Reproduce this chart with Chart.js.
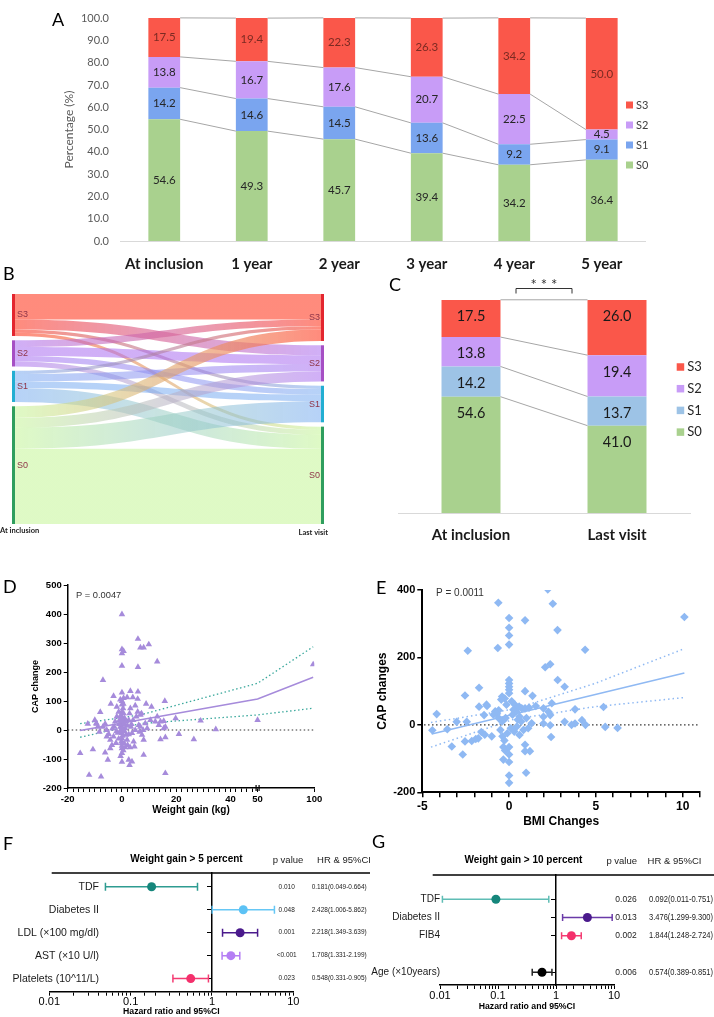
<!DOCTYPE html>
<html>
<head>
<meta charset="utf-8">
<title>CAP stages, weight gain and hazard ratios</title>
<script src="https://cdn.jsdelivr.net/npm/chart.js@4.4.1/dist/chart.umd.min.js"></script>
<style>
  body { margin: 0; background: #fff; }
  #page { position: relative; width: 714px; height: 1017px; overflow: hidden; background: #fff; }
  canvas { position: absolute; }
  .tag { position: absolute; font-family: Lato, sans-serif; font-size: 18px; line-height: 18px; color: #000; }
</style>
</head>
<body>
<div id="page">
  <canvas id="chartA" width="714" height="280" style="left:0;top:0"></canvas>
  <canvas id="chartB" width="335" height="260" style="left:0;top:285px"></canvas>
  <canvas id="chartC" width="354" height="280" style="left:360px;top:270px"></canvas>
  <canvas id="chartD" width="360" height="250" style="left:0;top:570px"></canvas>
  <canvas id="chartE" width="354" height="260" style="left:360px;top:570px"></canvas>
  <canvas id="chartF" width="370" height="187" style="left:0;top:830px"></canvas>
  <canvas id="chartG" width="354" height="187" style="left:360px;top:830px"></canvas>
  <div class="tag" style="left:52px;top:10px">A</div>
  <div class="tag" style="left:3px;top:264px">B</div>
  <div class="tag" style="left:389px;top:275px">C</div>
  <div class="tag" style="left:3px;top:577px">D</div>
  <div class="tag" style="left:376px;top:578px">E</div>
  <div class="tag" style="left:3px;top:834px">F</div>
  <div class="tag" style="left:372px;top:832px">G</div>
</div>
<script>
// ---- panel A: CAP stage share per follow-up year
const yearLabels = ['At inclusion', '1 year', '2 year', '3 year', '4 year', '5 year']
const yearS0 = [54.6, 49.3, 45.7, 39.4, 34.2, 36.4]
const yearS1 = [14.2, 14.6, 14.5, 13.6, 9.2, 9.1]
const yearS2 = [13.8, 16.7, 17.6, 20.7, 22.5, 4.5]
const yearS3 = [17.5, 19.4, 22.3, 26.3, 34.2, 50.0]

// ---- panel B: transitions inclusion -> last visit (to S3, S2, S1, S0)
const sankeyStages = ['S3', 'S2', 'S1', 'S0']
const flowFromS3 = [11.8, 4.6, 1.5, 1.5]
const flowFromS2 = [3.1, 4.1, 2.6, 2.3]
const flowFromS1 = [1.5, 3.4, 3.1, 6.4]
const flowFromS0 = [5.3, 4.6, 9.7, 34.8]

// ---- panel C
const visitLabels = ['At inclusion', 'Last visit']
const visitS0 = [54.6, 41.0]
const visitS1 = [14.2, 13.7]
const visitS2 = [13.8, 19.4]
const visitS3 = [17.5, 26.0]

// ---- panel D: weight gain (kg) vs CAP change
const weightGain = [0, 5.9, 9.9, 6.8, 8.0, 0, 0.6, 0, 13, 5.9, 0, -7, 0, 3.1, 5.9, -3.1, 1.9, 4, 5.8, -4.1,
  -1.9, 4.9, 8.9, 10.9, 15.8, -8, -10, -12.6, -9.3, 6.8, 13, 19.8, 29, 34.6, 50, 99, 14.2, 16, 15.4, 21,
  26.5, 14.2, 16, -15.4, -10.7, -6.2, -4.3, -5.2, 0, 2.5, 3.7, 2.8, 8, 16, -12.1, -7.7,
  -9.5, -8.9, -8.3, -7, -6.2, -5.6, -4.9, -5.6, -4.3, -3.7, -3.1, -2.8, -2.5, -1.9, -1.2, -0.9, -0.6, -0.4,
  0, 0, 0, 0, 0, 0, 0, 0, 0, 0.4, 0.6, 0.9, 1.2, 1.5, 1.9, 2.1, 2.5, 2.8, 3.1, 3.3, 3.7, 4.1, 4.3, 4.6,
  4.9, 5.3, 5.8, 6.2, 6.5, 6.8, 7.4, 7.8, 8, 7.2, 8.6, 9.3, 10.5, 12.3, 13.6, 15.4,
  0, 0, 0.5, -0.5, 0.3, -0.3, 0.2, -0.2, 0.5, -0.5, 1, -1, 1, -1.5, 2, -2, 0.8, 1.2, -1.2, 0, 0, 0,
  0.6, -0.6, 1.5, 2.5, -2.2, 3, -3.5, 3.5]
const capChangeD = [399, 314, 295, 284, 284, 278, 272, 264, 236, 217, 221, 172, 129, 134, 132, 117, 113, 113, 107, 90,
  80, 84, 90, 80, 100, 62, 34, 21, 21, 52, 46, 40, 32, 2, 34, 226, 29, 11, 31, -14,
  -32, -32, -25, -80, -67, -78, -63, -103, -110, -103, -109, -121, -86, -149, -155, -161,
  23, 11, -6, 11, 21, 0, -14, -23, -34, -52, -23, 11, 29, 46, 63, 34, 11, -6,
  63, 46, 29, 11, -11, -29, -46, -63, -80, 75, 57, 23, 6, -17, -34, -52, 34, 57, 75, 11, -11, 34, -40, -57,
  0, 46, 63, 17, -6, 11, -17, 0, -34, 57, 23, 6, 34, 29, 17, 6,
  100, 88, 90, 50, 20, 0, -20, -40, -70, -90, 40, 20, -5, -10, 15, -5, -45, -60, -30, 5, 38, -55,
  110, 105, 30, -15, -45, -60, 5, 20]
const fitD = [{ x: -15.4, y: -2 }, { x: 50, y: 107 }, { x: 99, y: 182 }]
const ciUpperD = [{ x: -15.4, y: 22 }, { x: 6.8, y: 52 }, { x: 50, y: 161 }, { x: 99, y: 287 }]
const ciLowerD = [{ x: -15.4, y: -25 }, { x: 6.8, y: 22 }, { x: 50, y: 52 }, { x: 99, y: 75 }]
const zeroLineD = [{ x: -20, y: 0 }, { x: 100, y: 0 }]
const weightTicks = [-20, 0, 20, 40, 50, 100]

// ---- panel E: BMI change vs CAP change
const bmiChange = [2.23, -0.62, 2.52, 0, 0, 0, 0, 0.92, 2.79, -2.38, -0.65, 4.38, 2.08, 2.37, 2.8, 3.2, 0, 0, 0, 0,
  0, -1.73, -2.54, 0.92, 1.35, -0.4, -0.25, -0.45, -1.73, -1.3, -1.27, -4.17, -3.02, -2.44, -1.44, -0.8, -0.6, -0.7,
  0.35, 0.58, 0.73, 0.92, 1.15, 1.54, 1.98, 2.27, 2.46, 3.8, 3.2, 3.8, 4.2, 1.98, 2.37, 2.37, 1.98,
  -4.42, -3.56, -3.3, -2.67, -2.54, -2.15, -1.92, -1.77, -1.6, -1.4, -1.0, -0.38, -0.27, -0.33, -0.23, 0, -0.33,
  0, 0, 0, 0, 0.92, 1.2, 0.92, 0.98, 2.42, 0.7, 0.83, 1.1, 1.3, 1.0, 10.1, 5.44, 5.54, 6.25, 4.4, 3.6,
  -0.2, 0.2, 0.4, -0.4, 0.1, 0.3, -0.1, 0.5, 0.6, -0.6, -0.9, 0.15, -0.15, 0.25, 0.45, 0.6, -0.5]
const capChangeE = [402, 362, 359, 317, 288, 265, 238, 310, 281, 220, 228, 223, 171, 180, 133, 113, 133, 123, 113, 104,
  94, 110, 87, 100, 86, 84, 78, 75, 54, 60, 56, 32, 9, 9, 29, 40, 43, 33,
  59, 54, 49, 49, 51, 56, 49, 39, 64, 46, 9, 4, 14, 24, 29, -1, 4,
  -16, -13, -64, -88, -49, -48, -42, -40, -21, -29, -34, -34, -46, -66, -76, -66, -103,
  -110, -88, -150, -172, -59, -78, -78, -142, -36, 10, -15, -10, 5, 20, 320, 53, -6, -9, 0, 0,
  20, 30, 40, 10, -10, -20, -25, 15, 25, 20, 30, 70, 60, 45, -5, -30, -15]
const fitE = [{ x: -4.46, y: -27 }, { x: 10.1, y: 154 }]
const ciUpperE = [{ x: -4.5, y: 7 }, { x: 0.3, y: 47 }, { x: 4.96, y: 123 }, { x: 10.1, y: 226 }]
const ciLowerE = [{ x: -4.5, y: -66 }, { x: 0.3, y: 17 }, { x: 4.96, y: 54 }, { x: 10.1, y: 81 }]
const zeroLineE = [{ x: -4.9, y: 0 }, { x: 10.9, y: 0 }]
const bmiTicks = [-5, 0, 5, 10]

// ---- panels F and G: hazard ratios
const hrTicks = [0.01, 0.1, 1, 10]
const fLabels = ['TDF', 'Diabetes II', 'LDL (×100 mg/dl)', 'AST (×10 U/l)', 'Platelets (10^11/L)']
const fHR = [0.181, 2.428, 2.218, 1.708, 0.548]
const fLow = [0.049, 1.006, 1.349, 1.331, 0.331]
const fHigh = [0.664, 5.862, 3.639, 2.199, 0.905]
const fP = ['0.010', '0.048', '0.001', '<0.001', '0.023']
const gLabels = ['TDF', 'Diabetes II', 'FIB4', '', 'Age (×10years)']
const gHR = [0.092, 3.476, 1.844, null, 0.574]
const gLow = [0.011, 1.299, 1.248, null, 0.389]
const gHigh = [0.751, 9.300, 2.724, null, 0.851]
const gP = ['0.026', '0.013', '0.002', '', '0.006']

Chart.defaults.font.family = '"Liberation Sans", Arial, sans-serif'
Chart.defaults.color = '#000'
Chart.defaults.animation = false
Chart.defaults.plugins.legend.display = false
Chart.defaults.plugins.tooltip.enabled = false

// x axis with a break: values up to breakAt take breakShare of the width
class BrokenLinearScale extends Chart.LinearScale {
  getPixelForValue(value) {
    const cut = this.options.breakAt ?? 50
    const share = this.options.breakShare ?? 0.77
    let f
    if (value <= cut) f = (value - this.min) / (cut - this.min) * share
    else f = share + (value - cut) / (this.max - cut) * (1 - share)
    return this.getPixelForDecimal(f)
  }
  getValueForPixel(pixel) {
    const cut = this.options.breakAt ?? 50
    const share = this.options.breakShare ?? 0.77
    const f = this.getDecimalForPixel(pixel)
    if (f <= share) return this.min + f / share * (cut - this.min)
    return cut + (f - share) / (1 - share) * (this.max - cut)
  }
}
BrokenLinearScale.id = 'brokenLinear'
BrokenLinearScale.defaults = Chart.LinearScale.defaults
Chart.register(BrokenLinearScale)

const barLabelPlugin = {
  id: 'barLabels',
  afterDatasetsDraw(chart, args, opts) {
    const ctx = chart.ctx
    ctx.save()
    ctx.font = opts.font
    ctx.textAlign = 'center'
    ctx.textBaseline = 'middle'
    chart.data.datasets.forEach((ds, di) => {
      chart.getDatasetMeta(di).data.forEach((bar, i) => {
        const top = Math.min(bar.y, bar.base)
        const yy = opts.fromTop ? top + opts.fromTop : (bar.y + bar.base) / 2
        ctx.fillStyle = opts.colors[di]
        ctx.fillText(ds.data[i].toFixed(1), bar.x, yy)
      })
    })
    ctx.restore()
  }
}

const connectorPlugin = {
  id: 'connectors',
  afterDatasetsDraw(chart) {
    const ctx = chart.ctx
    ctx.save()
    ctx.strokeStyle = '#a6a6a6'
    ctx.lineWidth = 1
    chart.data.datasets.forEach((ds, di) => {
      const bars = chart.getDatasetMeta(di).data
      ctx.beginPath()
      for (let i = 0; i + 1 < bars.length; i++) {
        const a = bars[i]
        const b = bars[i + 1]
        ctx.moveTo(a.x + a.width / 2, a.y)
        ctx.lineTo(b.x - b.width / 2, b.y)
      }
      ctx.stroke()
    })
    ctx.restore()
  }
}

const sideLegendPlugin = {
  id: 'sideLegend',
  afterDraw(chart, args, opts) {
    const ctx = chart.ctx
    ctx.save()
    ctx.font = opts.font
    ctx.textBaseline = 'middle'
    ctx.textAlign = 'left'
    chart.data.datasets.slice().reverse().forEach((ds, k) => {
      const yy = opts.top + k * opts.step
      ctx.fillStyle = ds.backgroundColor
      ctx.fillRect(opts.left, yy - opts.box / 2, opts.box, opts.box)
      ctx.fillStyle = opts.color
      ctx.fillText(ds.label, opts.left + opts.box + 3, yy)
    })
    ctx.restore()
  }
}

const notePlugin = {
  id: 'note',
  afterDraw(chart, args, opts) {
    const ctx = chart.ctx
    ctx.save()
    ctx.font = opts.font
    ctx.fillStyle = opts.color
    ctx.textBaseline = 'middle'
    ctx.textAlign = 'left'
    ctx.fillText(opts.text, opts.x, opts.y)
    ctx.restore()
  }
}

// ---------- A
new Chart(document.getElementById('chartA'), {
  type: 'bar',
  data: {
    labels: yearLabels,
    datasets: [
      { label: 'S0', data: yearS0, backgroundColor: '#a9d18e' },
      { label: 'S1', data: yearS1, backgroundColor: '#7aa5ef' },
      { label: 'S2', data: yearS2, backgroundColor: '#c89cf7' },
      { label: 'S3', data: yearS3, backgroundColor: '#fa574a' }
    ]
  },
  options: {
    responsive: false,
    layout: { padding: { left: 58, right: 68.5, top: 4.3, bottom: 0 } },
    datasets: { bar: { barPercentage: 1, categoryPercentage: 0.363 } },
    plugins: {
      barLabels: { font: '11.5px Lato', colors: ['#262626', '#262626', '#262626', '#7c2a22'] },
      sideLegend: { left: 626, top: 105, step: 20, box: 7, font: '11px Lato', color: '#404040' }
    },
    scales: {
      x: {
        stacked: true,
        grid: { display: false, drawTicks: false },
        border: { color: '#d9d9d9' },
        ticks: { font: { family: 'Lato', size: 15, weight: 'bold' }, color: '#1a1a1a', padding: 14 },
        afterFit: (s) => { s.height = 39 }
      },
      y: {
        stacked: true,
        min: 0,
        max: 100,
        grid: { display: false, drawTicks: false },
        border: { display: false },
        ticks: { stepSize: 10, callback: (v) => v.toFixed(1), font: { family: 'Lato', size: 11 }, color: '#595959', padding: 11.5 },
        title: { display: true, text: 'Percentage (%)', font: { family: 'Lato', size: 12 }, color: '#595959' },
        afterFit: (s) => { s.width = 62.5 }
      }
    }
  },
  plugins: [connectorPlugin, barLabelPlugin, sideLegendPlugin]
})

// ---------- B (sankey drawn through the chart scales)
const sankeyFlows = [flowFromS3, flowFromS2, flowFromS1, flowFromS0]
const sankeyTotal = sankeyFlows.flat().reduce((a, b) => a + b, 0)
const sankeyGap = 2
const nodeColors = ['#e3262f', '#a64fc4', '#22aed2', '#2f9e5e']
const flowColors = ['rgba(255,90,69,0.7)', 'rgba(170,110,240,0.55)', 'rgba(110,165,240,0.5)', 'rgba(196,245,150,0.55)']

const sankeyPlugin = {
  id: 'sankey',
  afterDatasetsDraw(chart) {
    const { ctx, scales: { x, y } } = chart
    const n = sankeyStages.length
    const leftTot = sankeyFlows.map((r) => r.reduce((a, b) => a + b, 0))
    const rightTot = sankeyStages.map((s, j) => sankeyFlows.reduce((a, r) => a + r[j], 0))
    const leftStart = []
    const rightStart = []
    let a = 0
    let b = 0
    for (let i = 0; i < n; i++) {
      leftStart.push(a)
      rightStart.push(b)
      a += leftTot[i] + sankeyGap
      b += rightTot[i] + sankeyGap
    }
    const nodeW = 3
    const x0 = x.getPixelForValue(0)
    const x1 = x.getPixelForValue(1)
    const xl = x0 + nodeW
    const xr = x1 - nodeW
    const xm = (xl + xr) / 2
    const outOff = leftStart.slice()
    const inOff = rightStart.slice()
    ctx.save()
    for (let i = 0; i < n; i++) {
      for (let j = 0; j < n; j++) {
        const v = sankeyFlows[i][j]
        const a0 = y.getPixelForValue(outOff[i])
        const a1 = y.getPixelForValue(outOff[i] + v)
        const b0 = y.getPixelForValue(inOff[j])
        const b1 = y.getPixelForValue(inOff[j] + v)
        outOff[i] += v
        inOff[j] += v
        const g = ctx.createLinearGradient(xl, 0, xr, 0)
        g.addColorStop(0, flowColors[i])
        g.addColorStop(1, flowColors[j])
        ctx.beginPath()
        ctx.moveTo(xl, a0)
        ctx.bezierCurveTo(xm, a0, xm, b0, xr, b0)
        ctx.lineTo(xr, b1)
        ctx.bezierCurveTo(xm, b1, xm, a1, xl, a1)
        ctx.closePath()
        ctx.fillStyle = g
        ctx.fill()
      }
    }
    ctx.font = '9px "Liberation Sans Narrow", "Liberation Sans", sans-serif'
    ctx.textBaseline = 'middle'
    for (let i = 0; i < n; i++) {
      const ly0 = y.getPixelForValue(leftStart[i])
      const ly1 = y.getPixelForValue(leftStart[i] + leftTot[i])
      const ry0 = y.getPixelForValue(rightStart[i])
      const ry1 = y.getPixelForValue(rightStart[i] + rightTot[i])
      ctx.fillStyle = nodeColors[i]
      ctx.fillRect(x0, ly0, nodeW, ly1 - ly0)
      ctx.fillRect(xr, ry0, nodeW, ry1 - ry0)
      ctx.fillStyle = '#8e3448'
      ctx.textAlign = 'left'
      ctx.fillText(sankeyStages[i], xl + 2, (ly0 + ly1) / 2)
      ctx.textAlign = 'right'
      ctx.fillText(sankeyStages[i], xr - 1, (ry0 + ry1) / 2)
    }
    ctx.fillStyle = '#222'
    ctx.font = 'bold 7.5px Lato'
    ctx.textAlign = 'left'
    ctx.fillText(visitLabels[0], 0, chart.chartArea.bottom + 7)
    ctx.textAlign = 'right'
    ctx.fillText(visitLabels[1], 328, chart.chartArea.bottom + 9)
    ctx.restore()
  }
}

new Chart(document.getElementById('chartB'), {
  type: 'scatter',
  data: { datasets: [] },
  options: {
    responsive: false,
    layout: { padding: { left: 12, right: 11, top: 9, bottom: 21 } },
    scales: {
      x: { type: 'linear', min: 0, max: 1, display: false },
      y: { type: 'linear', min: 0, max: sankeyTotal + sankeyGap * (sankeyStages.length - 1), reverse: true, display: false }
    }
  },
  plugins: [sankeyPlugin]
})

// ---------- C
const bracketPlugin = {
  id: 'bracket',
  afterDraw(chart) {
    const { ctx, scales: { x } } = chart
    const mid = (x.getPixelForValue(0) + x.getPixelForValue(1)) / 2
    ctx.save()
    ctx.strokeStyle = '#333'
    ctx.lineWidth = 1
    ctx.beginPath()
    ctx.moveTo(mid - 28, 23.5)
    ctx.lineTo(mid - 28, 18.5)
    ctx.lineTo(mid + 28, 18.5)
    ctx.lineTo(mid + 28, 23.5)
    ctx.stroke()
    ctx.fillStyle = '#333'
    ctx.font = '15px Lato'
    ctx.textAlign = 'center'
    ctx.textBaseline = 'middle'
    ctx.fillText('* * *', mid, 15)
    ctx.restore()
  }
}

new Chart(document.getElementById('chartC'), {
  type: 'bar',
  data: {
    labels: visitLabels,
    datasets: [
      { label: 'S0', data: visitS0, backgroundColor: '#a9d18e' },
      { label: 'S1', data: visitS1, backgroundColor: '#9dc3e6' },
      { label: 'S2', data: visitS2, backgroundColor: '#c89cf7' },
      { label: 'S3', data: visitS3, backgroundColor: '#fa574a' }
    ]
  },
  options: {
    responsive: false,
    layout: { padding: { left: 38, right: 24, top: 30, bottom: 0 } },
    datasets: { bar: { barPercentage: 1, categoryPercentage: 0.404 } },
    plugins: {
      barLabels: { font: '14.5px Lato', fromTop: 16.7, colors: ['#1a1a1a', '#1a1a1a', '#1a1a1a', '#1a1a1a'] },
      sideLegend: { left: 316.7, top: 97, step: 21.7, box: 7.5, font: '13px Lato', color: '#262626' }
    },
    scales: {
      x: {
        stacked: true,
        grid: { display: false, drawTicks: false },
        border: { color: '#d9d9d9' },
        ticks: { font: { family: 'Lato', size: 15, weight: 'bold' }, color: '#1a1a1a', padding: 13 },
        afterFit: (s) => { s.height = 37 }
      },
      y: { stacked: true, min: 0, max: 100, display: false }
    }
  },
  plugins: [connectorPlugin, barLabelPlugin, sideLegendPlugin, bracketPlugin]
})

// ---------- D
const breakMarkPlugin = {
  id: 'breakMark',
  afterDraw(chart) {
    const { ctx, chartArea, scales: { x } } = chart
    const px = x.getPixelForValue(50)
    ctx.save()
    ctx.strokeStyle = '#000'
    ctx.lineWidth = 1.2
    ctx.beginPath()
    ctx.moveTo(px - 1.5, chartArea.bottom - 3)
    ctx.lineTo(px - 1.5, chartArea.bottom + 3)
    ctx.moveTo(px + 1.5, chartArea.bottom - 3)
    ctx.lineTo(px + 1.5, chartArea.bottom + 3)
    ctx.stroke()
    ctx.restore()
  }
}

new Chart(document.getElementById('chartD'), {
  type: 'scatter',
  data: {
    datasets: [
      {
        data: weightGain.map((v, i) => ({ x: v, y: capChangeD[i] })),
        pointStyle: 'triangle', pointRadius: 3.8, backgroundColor: '#a68bdb', borderWidth: 0
      },
      { type: 'line', data: fitD, borderColor: '#a68bdb', borderWidth: 1.5, pointRadius: 0 },
      { type: 'line', data: ciUpperD, borderColor: '#3aa89c', borderWidth: 1.3, borderDash: [1.5, 2.5], pointRadius: 0 },
      { type: 'line', data: ciLowerD, borderColor: '#3aa89c', borderWidth: 1.3, borderDash: [1.5, 2.5], pointRadius: 0 },
      { type: 'line', data: zeroLineD, borderColor: '#333', borderWidth: 1.2, borderDash: [1.5, 2.5], pointRadius: 0 }
    ]
  },
  options: {
    responsive: false,
    layout: { padding: { left: 26, right: 45.7, top: 15, bottom: 0 } },
    plugins: { note: { text: 'P = 0.0047', x: 76, y: 25, font: '9.3px "Liberation Sans"', color: '#333' } },
    scales: {
      x: {
        type: 'brokenLinear',
        min: -20,
        max: 100,
        breakAt: 50,
        breakShare: 0.77,
        afterBuildTicks: (s) => {
          const t = []
          for (let v = -20; v <= 50; v += 2) t.push({ value: v })
          t.push({ value: 100 })
          s.ticks = t
        },
        ticks: {
          autoSkip: false, maxRotation: 0, padding: 1.5,
          callback: (v) => (weightTicks.includes(v) ? String(v) : ''),
          font: { size: 9.5, weight: 'bold' }, color: '#000'
        },
        grid: { drawOnChartArea: false, tickLength: 4, color: '#000' },
        border: { color: '#000', width: 1.5 },
        title: { display: true, text: 'Weight gain (kg)', font: { size: 10, weight: 'bold' }, padding: { top: 0, bottom: 4 } },
        afterFit: (s) => { s.height = 32 }
      },
      y: {
        min: -200,
        max: 500,
        ticks: { stepSize: 100, font: { size: 9.5, weight: 'bold' }, color: '#000', padding: 2 },
        grid: { drawOnChartArea: false, tickLength: 4, color: '#000' },
        border: { color: '#000', width: 1.5 },
        title: { display: true, text: 'CAP change', font: { size: 9, weight: 'bold' } },
        afterFit: (s) => { s.width = 41.7 }
      }
    }
  },
  plugins: [notePlugin, breakMarkPlugin]
})

// ---------- E
new Chart(document.getElementById('chartE'), {
  type: 'scatter',
  data: {
    datasets: [
      {
        data: bmiChange.map((v, i) => ({ x: v, y: capChangeE[i] })),
        pointStyle: 'rectRot', pointRadius: 4.3, backgroundColor: '#8fb9f3', borderWidth: 0
      },
      { type: 'line', data: fitE, borderColor: '#8fb9f3', borderWidth: 1.5, pointRadius: 0 },
      { type: 'line', data: ciUpperE, borderColor: '#8fb9f3', borderWidth: 1.5, borderDash: [1.5, 3], pointRadius: 0 },
      { type: 'line', data: ciLowerE, borderColor: '#8fb9f3', borderWidth: 1.5, borderDash: [1.5, 3], pointRadius: 0 },
      { type: 'line', data: zeroLineE, borderColor: '#333', borderWidth: 1.3, borderDash: [1.5, 2.5], pointRadius: 0 }
    ]
  },
  options: {
    responsive: false,
    layout: { padding: { left: 11, right: 14, top: 20, bottom: 0 } },
    plugins: { note: { text: 'P = 0.0011', x: 76, y: 23, font: '10px "Liberation Sans"', color: '#333' } },
    scales: {
      x: {
        type: 'linear',
        min: -5,
        max: 11,
        afterBuildTicks: (s) => {
          const t = []
          for (let v = -5; v <= 11; v += 1) t.push({ value: v })
          s.ticks = t
        },
        ticks: {
          autoSkip: false, maxRotation: 0, padding: 2,
          callback: (v) => (bmiTicks.includes(v) ? String(v) : ''),
          font: { size: 12, weight: 'bold' }, color: '#000'
        },
        grid: { drawOnChartArea: false, tickLength: 5, color: '#000', lineWidth: 1.5 },
        border: { color: '#000', width: 2 },
        title: { display: true, text: 'BMI Changes', font: { size: 12, weight: 'bold' }, padding: { top: 0, bottom: 1 } },
        afterFit: (s) => { s.height = 37.7 }
      },
      y: {
        min: -200,
        max: 400,
        ticks: { stepSize: 200, font: { size: 11, weight: 'bold' }, color: '#000', padding: 2 },
        grid: { drawOnChartArea: false, tickLength: 5, color: '#000', lineWidth: 1.5 },
        border: { color: '#000', width: 2 },
        title: { display: true, text: 'CAP changes', font: { size: 12, weight: 'bold' } },
        afterFit: (s) => { s.width = 51.3 }
      }
    }
  },
  plugins: [notePlugin]
})

// ---------- F and G
function forestDatasets(hr, lo, hi, ciCols, dotCols, capR) {
  const dots = []
  const bars = []
  hr.forEach((v, i) => {
    if (v == null) return
    dots.push({ data: [{ x: v, y: i }], pointRadius: 4.5, backgroundColor: dotCols[i], borderWidth: 0 })
    bars.push({
      type: 'line', data: [{ x: lo[i], y: i }, { x: hi[i], y: i }],
      borderColor: ciCols[i], borderWidth: 1.5,
      pointStyle: 'line', pointRotation: 90, pointRadius: capR, pointBorderColor: ciCols[i], pointBorderWidth: 1.5
    })
  })
  return dots.concat(bars)
}

function forestTextPlugin(cfg) {
  return {
    id: 'forestText',
    afterDraw(chart) {
      const { ctx, chartArea, scales: { y } } = chart
      ctx.save()
      ctx.strokeStyle = '#000'
      ctx.lineWidth = 1.5
      ctx.beginPath()
      ctx.moveTo(cfg.lineFrom, chartArea.top)
      ctx.lineTo(chart.width, chartArea.top)
      ctx.stroke()
      ctx.fillStyle = '#000'
      ctx.textBaseline = 'middle'
      ctx.textAlign = 'center'
      ctx.font = 'bold 10px "Liberation Sans"'
      ctx.fillText(cfg.title, cfg.titleX, cfg.titleY)
      ctx.font = '9.5px "Liberation Sans"'
      ctx.fillStyle = '#222'
      ctx.fillText('p value', cfg.pHeadX, cfg.titleY + 1.5)
      ctx.fillText('HR & 95%CI', cfg.hrHeadX, cfg.titleY + 1.5)
      cfg.labels.forEach((lab, i) => {
        const yy = y.getPixelForValue(i)
        ctx.fillStyle = '#1a1a1a'
        ctx.textAlign = 'right'
        ctx.font = cfg.labelFont
        ctx.fillText(lab, cfg.labelX, yy)
        if (cfg.hr[i] == null) return
        ctx.font = cfg.valueFont
        ctx.fillStyle = '#222'
        ctx.textAlign = 'center'
        ctx.fillText(cfg.p[i], cfg.pX, yy)
        ctx.textAlign = 'left'
        ctx.fillText(`${cfg.hr[i].toFixed(3)}(${cfg.lo[i].toFixed(3)}-${cfg.hi[i].toFixed(3)})`, cfg.hrX, yy, cfg.hrWidth)
      })
      ctx.restore()
    }
  }
}

function hrAxis(height, titlePadBottom) {
  return {
    type: 'logarithmic',
    min: 0.01,
    max: 10,
    ticks: {
      autoSkip: false, maxRotation: 0, padding: 0,
      callback: (v) => {
        const t = hrTicks.find((h) => Math.abs(h / v - 1) < 1e-6)
        return t === undefined ? '' : String(t)
      },
      font: { size: 11 }, color: '#000'
    },
    grid: { drawOnChartArea: false, tickLength: 4, color: '#000' },
    border: { color: '#000', width: 1.5 },
    title: { display: true, text: 'Hazard ratio and 95%CI', font: { size: 8.7, weight: 'bold' }, padding: { top: 0, bottom: titlePadBottom } },
    afterFit: (s) => { s.height = height }
  }
}

function rowAxis(labels, min, max) {
  return {
    type: 'linear',
    position: { x: 1 },
    min: min,
    max: max,
    reverse: true,
    afterBuildTicks: (s) => {
      s.ticks = labels.map((l, i) => ({ value: i, label: l })).filter((t) => t.label !== '').map((t) => ({ value: t.value }))
    },
    ticks: { display: false },
    grid: { drawOnChartArea: false, tickLength: 4, color: '#000' },
    border: { color: '#000', width: 1.5 }
  }
}

new Chart(document.getElementById('chartF'), {
  type: 'scatter',
  data: {
    datasets: forestDatasets(fHR, fLow, fHigh,
      ['#2e9c91', '#66c7f5', '#4a1a8c', '#b47ef4', '#f43b72'],
      ['#15867b', '#5cc2f5', '#4a1a8c', '#b47ef4', '#f4306c'], 4)
  },
  options: {
    responsive: false,
    layout: { padding: { left: 49.3, right: 76.7, top: 43, bottom: 0 } },
    scales: { x: hrAxis(25.3, 0), y: rowAxis(fLabels, -0.6, 4.57) }
  },
  plugins: [forestTextPlugin({
    labels: fLabels, hr: fHR, lo: fLow, hi: fHigh, p: fP,
    title: 'Weight gain > 5 percent', titleX: 186.5, titleY: 29,
    pHeadX: 288, hrHeadX: 344, lineFrom: 51.7,
    labelX: 99, labelFont: '10.5px "Liberation Sans"',
    pX: 286.7, hrX: 311.7, hrWidth: 55, valueFont: '6.5px "Liberation Sans"'
  })]
})

new Chart(document.getElementById('chartG'), {
  type: 'scatter',
  data: {
    datasets: forestDatasets(gHR, gLow, gHigh,
      ['#5fbdb5', '#6a3aa8', '#f43b72', null, '#222'],
      ['#15867b', '#4a1a8c', '#f4306c', null, '#000'], 3.5)
  },
  options: {
    responsive: false,
    layout: { padding: { left: 80, right: 100, top: 45, bottom: 0 } },
    scales: { x: hrAxis(32, 5), y: rowAxis(gLabels, -1.33, 4.7) }
  },
  plugins: [forestTextPlugin({
    labels: gLabels, hr: gHR, lo: gLow, hi: gHigh, p: gP,
    title: 'Weight gain > 10 percent', titleX: 163.5, titleY: 30,
    pHeadX: 261.7, hrHeadX: 314.5, lineFrom: 72.7,
    labelX: 80, labelFont: '10px "Liberation Sans"',
    pX: 266, hrX: 289, hrWidth: 64, valueFont: '8.5px "Liberation Sans"'
  })]
})
</script>
</body>
</html>
